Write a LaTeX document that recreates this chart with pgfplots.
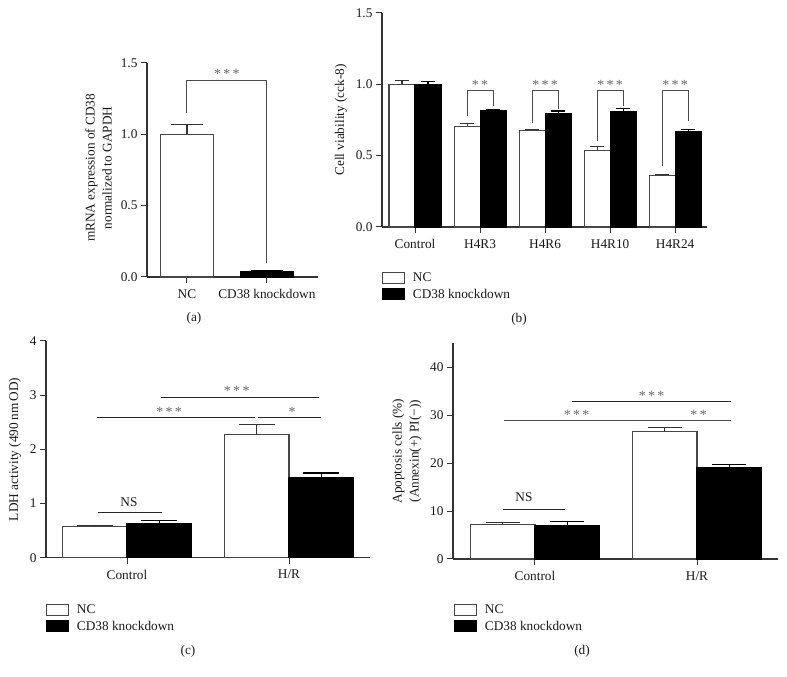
\documentclass[border=0pt]{standalone}
\usepackage{fontspec}
\setmainfont{Liberation Serif}
\usepackage{pgfplots}
\pgfplotsset{compat=1.18}
\definecolor{ax}{gray}{0.2}
\definecolor{st}{gray}{0.4}
\tikzset{
  stars/.style={font=\fontsize{14}{16}\selectfont, text=st},
  lbl/.style={font=\fontsize{13.3}{16}\selectfont, text=black!90},
}
\pgfplotsset{
  panel/.style={
    scale only axis,
    anchor=south west,
    axis x line*=bottom,
    axis y line*=left,
    clip=false,
    tick align=outside,
    major tick length=6pt,
    minor tick num=0,
    every tick/.style={ax, line width=1pt},
    axis line style={ax, line width=1.1pt},
    /pgf/number format/assume math mode=true,
    tick label style={font=\fontsize{13.3}{16}\selectfont, text=black!90},
    xticklabel style={yshift=-3pt},
    label style={font=\fontsize{13.3}{17}\selectfont, text=black!90, align=center, anchor=center},
    legend style={font=\fontsize{13.3}{16}\selectfont, text=black!90, draw=none, fill=none,
      at={(0,0)}, anchor=north west, yshift=-45pt, inner sep=0pt, row sep=4pt,
      nodes={inner sep=0pt}},
    legend cell align=left,
    ymin=0,
  },
  ncbar/.style={ybar, bar shift=0pt, fill=white, draw=black!72, line width=1.1pt,
    error bars/y dir=plus, error bars/y explicit,
    error bars/error bar style={line width=1.1pt, draw=black!80},
    error bars/error mark options={rotate=90, line width=1.1pt, draw=black!80, mark size=#1}},
  kdbar/.style={ybar, bar shift=0pt, fill=black, draw=black, line width=1.1pt,
    error bars/y dir=plus, error bars/y explicit,
    error bars/error bar style={line width=1.1pt, draw=black},
    error bars/error mark options={rotate=90, line width=1.1pt, draw=black, mark size=#1}},
  brk/.style={no marks, line width=1pt, draw=black!70},
  hl/.style={no marks, line width=1.1pt, draw=black!85},
  ncleg/.style={legend image code/.code={\draw[fill=white, draw=black!72, line width=1.1pt] (0pt,-5.5pt) rectangle (22pt,5.5pt); \path (30pt,0pt);}},
  kdleg/.style={legend image code/.code={\draw[fill=black, draw=black, line width=1.1pt] (0pt,-5.5pt) rectangle (22pt,5.5pt); \path (30pt,0pt);}},
}
\begin{document}
\begin{tikzpicture}
\useasboundingbox (0pt,0pt) rectangle (787pt,677pt);

% ---------------- (a)
\begin{axis}[panel, at={(147pt,400pt)}, width=171pt, height=214pt,
  xmin=-0.5, xmax=1.64, ymax=1.5, ytick={0,0.5,1,1.5},
  yticklabel style={/pgf/number format/fixed, /pgf/number format/fixed zerofill, /pgf/number format/precision=1},
  xtick={0,1}, xticklabels={NC, CD38 knockdown},
  bar width=0.67,
  ylabel={mRNA expression of CD38\\normalized to GAPDH},
  ylabel style={at={(axis description cs:-0.284,0.51)}},
]
\addplot[ncbar=16pt] table[x=x,y=y,y error=e]{
x y e
0 1.0 0.07
};
\addplot[kdbar=16pt] table[x=x,y=y,y error=e]{
x y e
1 0.04 0.004
};
\addplot[brk] coordinates {(0,1.15) (0,1.38) (1,1.38) (1,0.1)};
\node[stars] at (axis cs:0.5,1.42) {*\,*\,*};
\end{axis}

% ---------------- (b)
\begin{axis}[panel, at={(382pt,450pt)}, width=325pt, height=214pt,
  xmin=-0.508, xmax=4.49, ymax=1.5, ytick={0,0.5,1,1.5},
  yticklabel style={/pgf/number format/fixed, /pgf/number format/fixed zerofill, /pgf/number format/precision=1},
  xtick={0,1,2,3,4}, xticklabels={Control,H4R3,H4R6,H4R10,H4R24},
  bar width=0.4,
  ylabel={Cell viability (cck-8)},
  ylabel style={at={(axis description cs:-0.126,0.5)}},
]
\addplot[ncbar=6.7pt, forget plot] table[x=x,y=y,y error=e]{
x y e
-0.2 1.000 0.028
0.8 0.706 0.021
1.8 0.678 0.007
2.8 0.538 0.026
3.8 0.359 0.007
};
\addplot[kdbar=6.7pt, forget plot] table[x=x,y=y,y error=e]{
x y e
0.2 1.000 0.020
1.2 0.816 0.009
2.2 0.795 0.018
3.2 0.806 0.024
4.2 0.667 0.016
};
\addplot[brk, forget plot] coordinates {(0.8,0.78) (0.8,0.958) (1.2,0.958) (1.2,0.846)};
\addplot[brk, forget plot] coordinates {(1.8,0.73) (1.8,0.958) (2.2,0.958) (2.2,0.83)};
\addplot[brk, forget plot] coordinates {(2.8,0.60) (2.8,0.958) (3.2,0.958) (3.2,0.846)};
\addplot[brk, forget plot] coordinates {(3.8,0.43) (3.8,0.958) (4.2,0.958) (4.2,0.74)};
\node[stars] at (axis cs:1,0.995) {*\,*};
\node[stars] at (axis cs:2,0.995) {*\,*\,*};
\node[stars] at (axis cs:3,0.995) {*\,*\,*};
\node[stars] at (axis cs:4,0.995) {*\,*\,*};
\addlegendimage{ncleg}\addlegendentry{NC}
\addlegendimage{kdleg}\addlegendentry{CD38 knockdown}
\end{axis}

% ---------------- (c)
\begin{axis}[panel, at={(46pt,119.3pt)}, width=324pt, height=216.7pt,
  xmin=-0.5, xmax=1.5, ymax=4, ytick={0,1,2,3,4},
  xtick={0,1}, xticklabels={Control,H/R},
  bar width=0.4,
  ylabel={LDH activity (490\,nm\,OD)},
  ylabel style={at={(axis description cs:-0.096,0.5)}},
  legend style={yshift=-1.3pt},
]
\addplot[ncbar=18pt, forget plot] table[x=x,y=y,y error=e]{
x y e
-0.2 0.572 0.030
0.8 2.270 0.190
};
\addplot[kdbar=18pt, forget plot] table[x=x,y=y,y error=e]{
x y e
0.2 0.627 0.056
1.2 1.476 0.087
};
\addplot[hl, forget plot] coordinates {(-0.18,0.837) (0.214,0.837)};
\addplot[hl, forget plot] coordinates {(-0.187,2.596) (0.79,2.596)};
\addplot[hl, forget plot] coordinates {(0.81,2.596) (1.2,2.596)};
\addplot[hl, forget plot] coordinates {(0.208,2.95) (1.185,2.95)};
\node[lbl] at (axis cs:0.012,1.03) {NS};
\node[stars] at (axis cs:0.677,3.07) {*\,*\,*};
\node[stars] at (axis cs:0.26,2.70) {*\,*\,*};
\node[stars] at (axis cs:1.02,2.70) {*};
\addlegendimage{ncleg}\addlegendentry{NC}
\addlegendimage{kdleg}\addlegendentry{CD38 knockdown}
\end{axis}

% ---------------- (d)
\begin{axis}[panel, at={(453pt,118pt)}, width=325pt, height=215.7pt,
  xmin=-0.506, xmax=1.5, ymax=45, ytick={0,10,20,30,40},
  xtick={0,1}, xticklabels={Control,H/R},
  bar width=0.4,
  ylabel={Apoptosis cells (\%)\\(Annexin(+) PI(−))},
  ylabel style={at={(axis description cs:-0.142,0.5)}},
  legend style={xshift=1pt},
]
\addplot[ncbar=17pt, forget plot] table[x=x,y=y,y error=e]{
x y e
-0.2 7.20 0.35
0.8 26.55 0.95
};
\addplot[kdbar=17pt, forget plot] table[x=x,y=y,y error=e]{
x y e
0.2 6.93 0.83
1.2 19.06 0.69
};
\addplot[hl, forget plot] coordinates {(-0.2,10.25) (0.185,10.25)};
\addplot[brk, forget plot] coordinates {(-0.19,28.96) (1.21,28.96)};
\addplot[hl, forget plot] coordinates {(0.23,32.85) (1.21,32.85)};
\node[lbl] at (axis cs:-0.068,12.95) {NS};
\node[stars] at (axis cs:0.72,34.0) {*\,*\,*};
\node[stars] at (axis cs:0.257,30.1) {*\,*\,*};
\node[stars] at (axis cs:1.01,30.1) {*\,*};
\addlegendimage{ncleg}\addlegendentry{NC}
\addlegendimage{kdleg}\addlegendentry{CD38 knockdown}
\end{axis}

\node[lbl] at (194pt,359pt) {(a)};
\node[lbl] at (519pt,358pt) {(b)};
\node[lbl] at (188pt,26pt) {(c)};
\node[lbl] at (582pt,26pt) {(d)};
\end{tikzpicture}
\end{document}
